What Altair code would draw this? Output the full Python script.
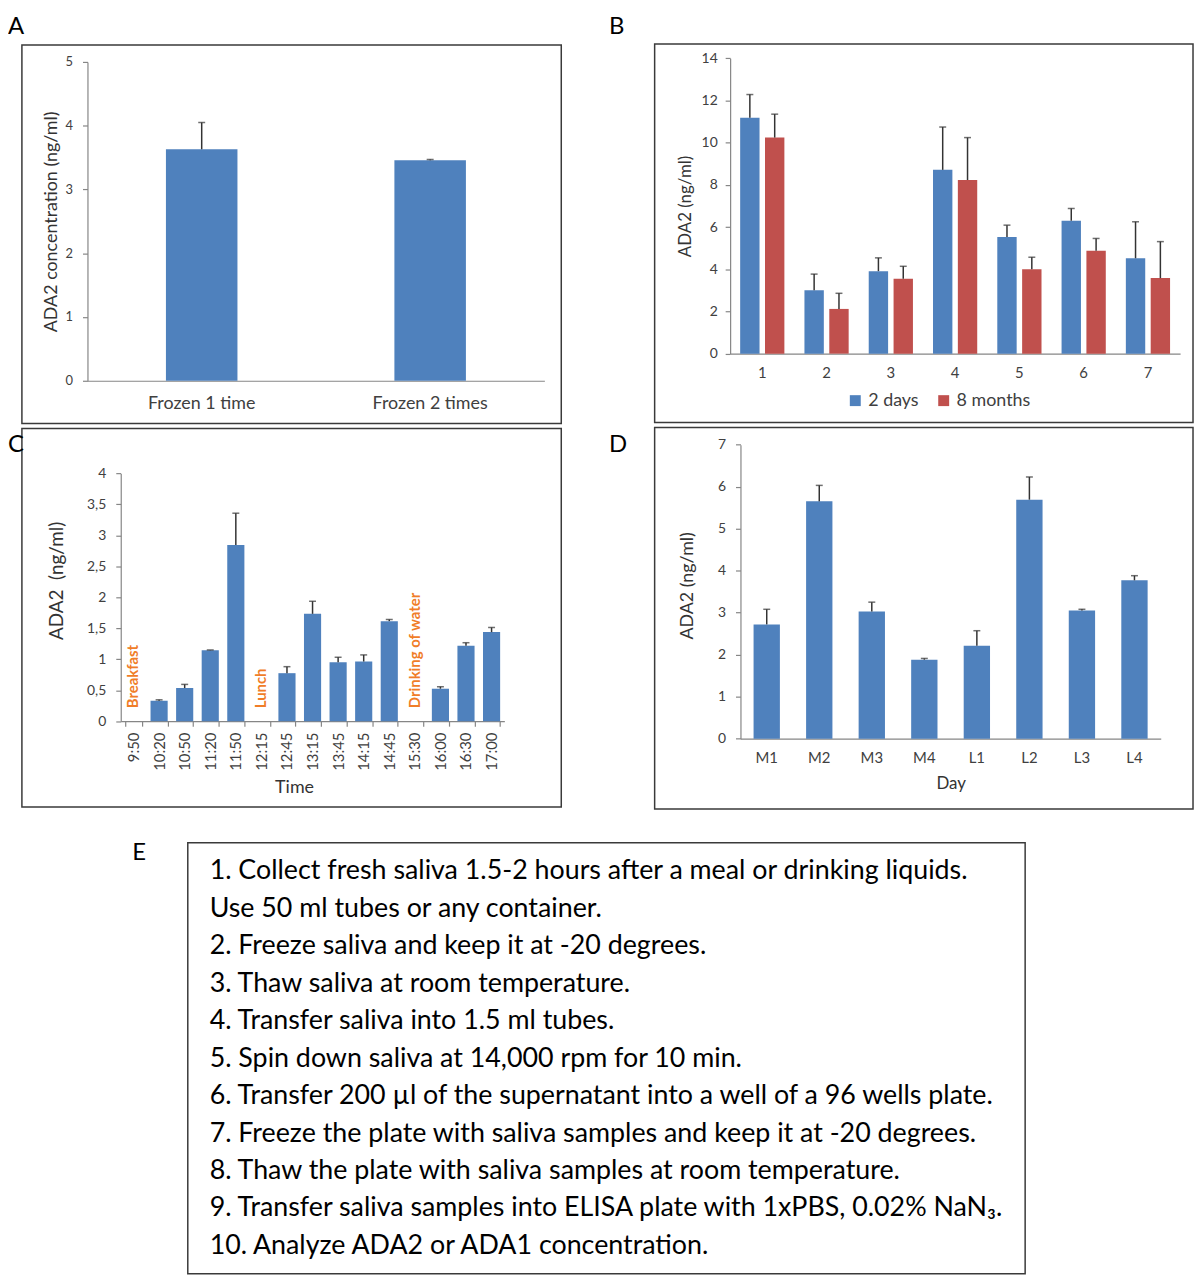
import altair as alt
import pandas as pd

# ---------------- data ----------------
a_cats = ["Frozen 1 time", "Frozen 2 times"]
a_vals = [3.63, 3.46]
a_err = [4.05, 3.47]

b_groups = ["1", "2", "3", "4", "5", "6", "7"]
b_series = ["2 days", "8 months"]
b_2days = [11.18, 3.00, 3.91, 8.71, 5.53, 6.30, 4.52]
b_2days_err = [12.28, 3.77, 4.54, 10.74, 6.09, 6.88, 6.25]
b_8months = [10.24, 2.12, 3.55, 8.23, 4.00, 4.88, 3.58]
b_8months_err = [11.35, 2.86, 4.14, 10.24, 4.57, 5.46, 5.31]

c_times = ["9:50", "10:20", "10:50", "11:20", "11:50", "12:15", "12:45", "13:15",
           "13:45", "14:15", "14:45", "15:30", "16:00", "16:30", "17:00"]
c_vals = [None, 0.33, 0.535, 1.144, 2.845, None, 0.775, 1.733, 0.952, 0.963, 1.615,
          None, 0.524, 1.219, 1.438]
c_err = [None, 0.345, 0.594, 1.15, 3.358, None, 0.88, 1.936, 1.032, 1.07, 1.642,
         None, 0.556, 1.267, 1.513]
c_events = ["Breakfast", "Lunch", "Drinking of water"]
c_event_times = ["9:50", "12:15", "15:30"]

d_days = ["M1", "M2", "M3", "M4", "L1", "L2", "L3", "L4"]
d_vals = [2.72, 5.65, 3.03, 1.88, 2.21, 5.69, 3.05, 3.77]
d_err = [3.08, 6.03, 3.25, 1.91, 2.57, 6.23, 3.08, 3.88]

e_lines = [
    "1. Collect fresh saliva 1.5-2 hours after a meal or drinking liquids.",
    "Use 50 ml tubes or any container.",
    "2. Freeze saliva and keep it at -20 degrees.",
    "3. Thaw saliva at room temperature.",
    "4. Transfer saliva into 1.5 ml tubes.",
    "5. Spin down saliva at 14,000 rpm for 10 min.",
    "6. Transfer 200 µl of the supernatant into a well of a 96 wells plate.",
    "7. Freeze the plate with saliva samples and keep it at -20 degrees.",
    "8. Thaw the plate with saliva samples at room temperature.",
    "9. Transfer saliva samples into ELISA plate with 1xPBS, 0.02% NaN₃.",
    "10. Analyze ADA2 or ADA1 concentration.",
]

# ---------------- style ----------------
FONT = "Lato"
W, H = 1195, 1271
BLUE = "#4F81BD"
RED = "#C0504D"
ORANGE = "#F07D28"
AXC = "#868686"
LBL = "#404040"
TTL = "#333333"
ERR = "#333333"
FRAME = "#3a3a3a"


def frame(x1, y1, x2, y2):
    return alt.Chart(alt.Data(values=[{}])).mark_rect(
        fill="transparent", stroke=FRAME, strokeWidth=1.5
    ).encode(x=alt.value(x1), x2=alt.value(x2), y=alt.value(y1), y2=alt.value(y2))


def letter(t, x, y):
    return alt.Chart(alt.Data(values=[{}])).mark_text(
        text=t, align="left", baseline="alphabetic", fontSize=24, font=FONT, color="black"
    ).encode(x=alt.value(x), y=alt.value(y))


def yaxis(xpos, values, title, tx, ty, pad=10, fs=14, tfs=17, expr=None):
    kw = dict(orient="left", offset=-xpos, values=values, title=title, titleX=tx, titleY=ty,
              grid=False, ticks=True, tickSize=5, labelPadding=pad, format="~g",
              labelFontSize=fs, titleFontSize=tfs)
    if expr:
        kw["labelExpr"] = expr
    return alt.Axis(**kw)


def xaxis(ypos, pad, fs=14, ticks=False, angle=0, title=None, tx=None, ty=None, band=None, tfs=17):
    kw = dict(orient="bottom", offset=ypos - H, ticks=ticks, tickSize=5 if ticks else 0,
              labelPadding=pad, labelFontSize=fs, labelAngle=angle, grid=False, title=title,
              labelOverlap=False, titleFontSize=tfs)
    if tx is not None:
        kw["titleX"] = tx
        kw["titleY"] = ty
    if band:
        kw["tickBand"] = band
    return alt.Axis(**kw)


# ---------------- panel A ----------------
dfA = pd.DataFrame({"cat": a_cats, "v": a_vals, "e": a_err})
sxA = alt.Scale(domain=a_cats, range=[80, 540], paddingInner=0, paddingOuter=0)
syA = alt.Scale(domain=[0, 5], range=[371, 50], nice=False)
axA = xaxis(371, 14, fs=18)
ayA = yaxis(80, [0, 1, 2, 3, 4, 5], "ADA2 concentration (ng/ml)", -27, 210.5, pad=10,
            fs=13, tfs=18)
barsA = alt.Chart(dfA).mark_bar(size=72, color=BLUE).encode(
    x=alt.X("cat:N", scale=sxA, axis=axA), y=alt.Y("v:Q", scale=syA, axis=ayA))
ruleA = alt.Chart(dfA).mark_rule(color=ERR, strokeWidth=1.5).encode(
    x=alt.X("cat:N", scale=sxA, axis=axA), y=alt.Y("v:Q", scale=syA, axis=ayA), y2="e:Q")
capA = alt.Chart(dfA).mark_tick(color=ERR, size=7, thickness=1.5).encode(
    x=alt.X("cat:N", scale=sxA, axis=axA), y=alt.Y("e:Q", scale=syA, axis=ayA))
panelA = alt.layer(barsA, ruleA, capA)

# ---------------- panel B ----------------
rowsB = []
for i, g in enumerate(b_groups):
    rowsB.append({"g": g, "s": b_series[0], "v": b_2days[i], "e": b_2days_err[i]})
    rowsB.append({"g": g, "s": b_series[1], "v": b_8months[i], "e": b_8months_err[i]})
dfB = pd.DataFrame(rowsB)
sxB = alt.Scale(domain=b_groups, range=[727, 1180], paddingInner=0, paddingOuter=0)
syB = alt.Scale(domain=[0, 14], range=[343.7, 46.3], nice=False)
soB = alt.Scale(domain=b_series, paddingInner=0.22, paddingOuter=0.404)
axB = xaxis(343.7, 12, fs=15)
ayB = yaxis(727, [0, 2, 4, 6, 8, 10, 12, 14], "ADA2 (ng/ml)", -36, 195, pad=8, fs=14, tfs=17)
xB = alt.X("g:N", scale=sxB, axis=axB)
oB = alt.XOffset("s:N", scale=soB)
barsB = alt.Chart(dfB).mark_bar().encode(
    x=xB, xOffset=oB, y=alt.Y("v:Q", scale=syB, axis=ayB),
    color=alt.Color("s:N", scale=alt.Scale(domain=b_series, range=[BLUE, RED]),
                    legend=alt.Legend(orient="none", legendX=844, legendY=382,
                                      direction="horizontal", title=None,
                                      symbolType="square", symbolSize=121,
                                      symbolStrokeWidth=0, labelFontSize=18,
                                      labelColor=LBL, labelFont=FONT,
                                      columnPadding=16, labelOffset=4)))
ruleB = alt.Chart(dfB).mark_rule(color=ERR, strokeWidth=1.5).encode(
    x=xB, xOffset=oB, y=alt.Y("v:Q", scale=syB, axis=ayB), y2="e:Q")
capB = alt.Chart(dfB).mark_tick(color=ERR, size=7, thickness=1.5).encode(
    x=xB, xOffset=oB, y=alt.Y("e:Q", scale=syB, axis=ayB))
panelB = alt.layer(barsB, ruleB, capB)

# ---------------- panel C ----------------
dfC = pd.DataFrame({"t": c_times, "v": c_vals, "e": c_err})
dfCe = pd.DataFrame({"t": c_event_times, "label": c_events})
sxC = alt.Scale(domain=c_times, range=[113.5, 499.7], paddingInner=0.33, paddingOuter=0.165)
syC = alt.Scale(domain=[0, 4], range=[713.7, 464.3], nice=False)
axC = xaxis(713.7, 6, fs=15, ticks=True, angle=270, title="Time", tx=288, ty=58, band="extent",
            tfs=18)
ayC = yaxis(113.5, [0, 0.5, 1, 1.5, 2, 2.5, 3, 3.5, 4], "ADA2\u00a0\u00a0(ng/ml)", -54.5, 572,
            pad=10, fs=14, tfs=19,
            expr="replace(format(datum.value, '.1~f'), '.', ',')")
xC = alt.X("t:N", scale=sxC, axis=axC)
barsC = alt.Chart(dfC).mark_bar(color=BLUE).encode(x=xC, y=alt.Y("v:Q", scale=syC, axis=ayC))
ruleC = alt.Chart(dfC).mark_rule(color=ERR, strokeWidth=1.5).encode(
    x=xC, y=alt.Y("v:Q", scale=syC, axis=ayC), y2="e:Q")
capC = alt.Chart(dfC).mark_tick(color=ERR, size=7, thickness=1.5).encode(
    x=xC, y=alt.Y("e:Q", scale=syC, axis=ayC))
evC = alt.Chart(dfCe).mark_text(angle=270, align="left", baseline="middle", dx=13,
                                fontSize=15, fontWeight="bold", color=ORANGE, font=FONT).encode(
    x=xC, y=alt.Y(datum=0, type="quantitative", scale=syC, axis=ayC), text="label:N")
panelC = alt.layer(barsC, ruleC, capC, evC)

# ---------------- panel D ----------------
dfD = pd.DataFrame({"d": d_days, "v": d_vals, "e": d_err})
sxD = alt.Scale(domain=d_days, range=[737.4, 1160.5], paddingInner=0, paddingOuter=0)
syD = alt.Scale(domain=[0, 7], range=[731.3, 435.3], nice=False)
axD = xaxis(731.3, 12, fs=15, title="Day", tx=949, ty=37, tfs=17)
ayD = yaxis(737.4, [0, 1, 2, 3, 4, 5, 6, 7], "ADA2 (ng/ml)", -44.4, 577, pad=10, fs=14, tfs=18)
xD = alt.X("d:N", scale=sxD, axis=axD)
barsD = alt.Chart(dfD).mark_bar(size=26.5, color=BLUE).encode(x=xD, y=alt.Y("v:Q", scale=syD, axis=ayD))
ruleD = alt.Chart(dfD).mark_rule(color=ERR, strokeWidth=1.5).encode(
    x=xD, y=alt.Y("v:Q", scale=syD, axis=ayD), y2="e:Q")
capD = alt.Chart(dfD).mark_tick(color=ERR, size=7, thickness=1.5).encode(
    x=xD, y=alt.Y("e:Q", scale=syD, axis=ayD))
panelD = alt.layer(barsD, ruleD, capD)

# ---------------- panel E ----------------
dfE = pd.DataFrame({"i": list(range(len(e_lines))), "line": e_lines})
textE = alt.Chart(dfE).mark_text(align="left", baseline="middle", fontSize=27, font=FONT,
                                 color="black").encode(
    x=alt.value(203),
    y=alt.Y("i:O", scale=alt.Scale(type="point", domain=list(range(len(e_lines))),
                                   range=[865, 1242], padding=0), axis=None),
    text="line:N")

chart = alt.layer(
    frame(14, 33, 557, 414), frame(651, 32, 1193, 413),
    frame(14, 419, 557, 800), frame(651, 418, 1193, 802),
    frame(181, 836, 1024, 1270),
    panelA, panelB, panelC, panelD, textE,
    letter("A", 0, 22), letter("B", 605, 22), letter("C", 0, 443), letter("D", 605, 443),
    letter("E", 125, 853),
).resolve_scale(
    x="independent", y="independent", xOffset="independent", color="independent"
).resolve_axis(x="independent", y="independent").resolve_legend(color="independent").properties(
    width=W, height=H, autosize=alt.AutoSizeParams(type="none"), padding=0
).configure(font=FONT).configure_view(stroke=None).configure_axis(
    domainColor=AXC, tickColor=AXC, labelColor=LBL, titleColor=TTL, labelFont=FONT,
    titleFont=FONT, labelFontSize=14, titleFontSize=17, titleFontWeight="normal",
    domainWidth=1.2, tickWidth=1.2
)

chart.save("out.html", embed_options={"renderer": "svg", "actions": False})
